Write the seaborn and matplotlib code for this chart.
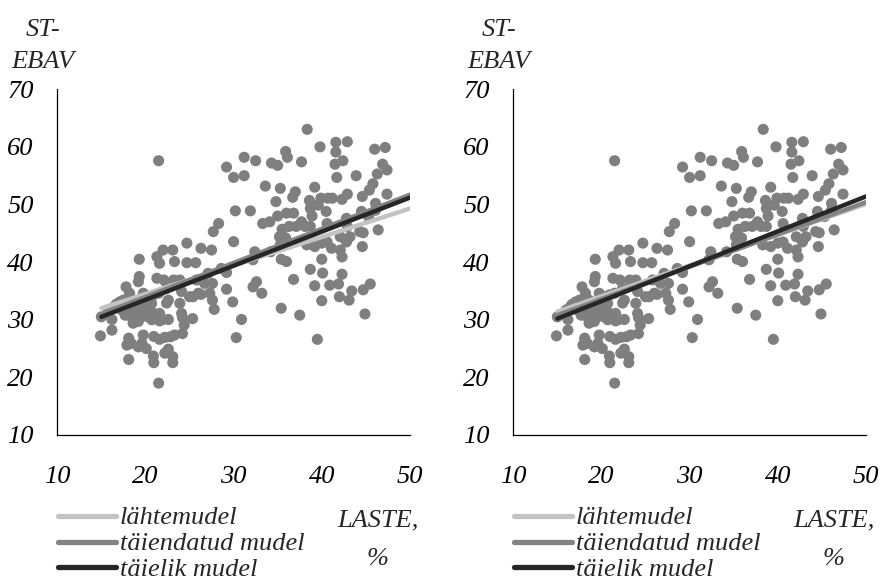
import numpy as np
import pandas as pd
import matplotlib
matplotlib.use("Agg")
import matplotlib.pyplot as plt
from matplotlib.lines import Line2D
import seaborn as sns

# scatter points (same in both panels)
laste = [38.35, 39.8, 41.6, 42.9, 41.6, 42.4, 41.5, 41.7, 43.9, 46.0, 47.2, 46.9, 47.4, 46.3,
         45.8, 45.4, 44.6, 47.4, 42.9, 39.2, 40.7, 39.9, 41.2, 42.3, 38.6, 39.6, 38.7, 38.9,
         40.5, 46.1, 46.1, 44.5, 45.3, 42.8, 40.6, 42.9, 43.2, 42.1, 42.8, 44.3, 44.7, 46.4,
         44.6, 40.6, 40.0, 39.2, 38.3, 41.1, 42.1, 42.3, 40.0, 38.7, 40.1, 42.3, 39.2, 40.9,
         41.9, 42.0, 43.1, 43.4, 40.0, 44.7, 45.5, 44.9, 39.5, 37.5, 35.4, 36.8, 36.0, 35.4,
         35.3, 35.9, 35.5, 36.3, 37.1, 37.7, 38.1, 38.7, 36.0, 36.8, 35.0, 34.8, 36.7, 37.0,
         35.3, 33.6, 35.9, 36.1, 37.7, 34.3, 35.0, 32.5, 31.2, 31.2, 30.0, 29.2, 31.9, 30.2,
         33.3, 34.1, 34.2, 32.4, 32.2, 30.0, 29.2, 28.6, 29.2, 29.9, 30.9, 30.3, 32.6, 32.2,
         33.2, 28.3, 27.7, 27.5, 26.3, 24.7, 27.1, 25.8, 26.7, 27.6, 27.3, 27.6, 27.8, 26.3,
         25.4, 25.0, 25.7, 24.7, 23.3, 23.9, 24.1, 23.9, 24.1, 24.2, 25.35, 24.4, 24.2, 23.1,
         22.0, 21.3, 21.6, 21.3, 22.1, 23.2, 22.4, 21.5, 22.6, 22.4, 21.6, 22.0, 22.6, 21.6,
         21.5, 21.5, 20.95, 21.6, 22.2, 22.85, 22.6, 22.2, 23.1, 23.1, 20.9, 20.95, 19.3, 19.3,
         19.2, 20.1, 17.8, 18.2, 17.1, 16.5, 16.0, 15.7, 16.2, 15.0, 14.9, 16.2, 18.1, 18.1,
         18.4, 17.9, 19.2, 19.6, 20.1, 19.75, 17.5, 18.05, 18.6, 19.4, 20.1, 20.7, 17.3, 17.9,
         18.6, 19.4, 20.1, 20.7, 17.7, 18.4, 19.4, 20.1, 18.6, 19.2, 20.7, 19.75, 20.9, 16.7,
         18.8, 20.3, 35.6, 35.2, 23.3, 26.0]
ebav = [63.05, 60.0, 60.8, 60.9, 59.1, 57.6, 57.0, 54.7, 55.0, 59.6, 59.9, 57.0, 56.0, 55.3,
        53.6, 52.5, 51.4, 51.8, 51.8, 53.0, 51.1, 51.1, 51.1, 50.9, 50.7, 49.9, 49.3, 48.0,
        48.8, 50.2, 49.0, 48.8, 47.9, 47.6, 46.7, 46.2, 44.4, 44.4, 43.5, 45.3, 45.1, 45.6,
        42.7, 43.5, 43.3, 42.7, 43.0, 42.4, 42.1, 40.9, 40.5, 38.75, 38.1, 37.9, 35.9, 36.0,
        36.2, 34.0, 33.4, 35.0, 33.3, 35.2, 36.2, 31.0, 26.6, 30.8, 32.0, 37.0, 40.1, 40.5,
        43.0, 44.2, 45.7, 46.2, 46.2, 47.0, 46.2, 46.2, 48.5, 48.5, 48.0, 50.5, 51.25, 52.2,
        52.8, 53.2, 59.2, 58.2, 57.4, 57.2, 56.8, 57.6, 58.2, 55.0, 54.7, 56.5, 48.9, 48.9,
        46.7, 47.0, 41.8, 41.8, 40.4, 43.55, 38.2, 38.9, 35.3, 33.1, 30.05, 26.9, 36.6, 35.7,
        34.6, 46.7, 45.3, 42.1, 42.4, 43.3, 38.05, 36.9, 36.3, 36.3, 34.6, 33.4, 31.8, 34.4,
        34.0, 34.0, 39.9, 39.9, 40.1, 36.9, 34.9, 32.85, 31.1, 30.4, 30.2, 29.1, 27.6, 42.1,
        42.1, 40.95, 39.8, 37.2, 36.9, 36.9, 35.45, 34.6, 33.4, 32.9, 31.1, 30.05, 30.05, 29.8,
        57.6, 19.0, 27.1, 26.6, 26.95, 27.05, 24.9, 24.2, 23.6, 22.55, 23.7, 22.55, 40.5, 37.5,
        36.6, 34.1, 35.7, 34.6, 33.1, 32.3, 31.7, 31.1, 30.05, 30.5, 27.2, 28.2, 23.1, 26.8,
        25.9, 25.6, 25.3, 25.9, 25.0, 27.35, 33.4, 33.1, 33.4, 33.1, 33.4, 32.85, 31.7, 32.0,
        31.7, 31.7, 31.7, 31.4, 30.8, 30.5, 30.4, 30.6, 29.4, 29.7, 30.0, 34.6, 34.3, 32.7,
        31.1, 32.2, 44.4, 44.4, 27.35, 34.6]

# fitted lines: start and end of each model, per panel
line_x = [15, 50]
models = ["lähtemudel", "täiendatud mudel", "täielik mudel"]
left_lines = {"lähtemudel": [32.0, 49.3],
              "täiendatud mudel": [31.0, 51.7],
              "täielik mudel": [30.5, 51.2]}
right_lines = {"lähtemudel": [31.4, 50.1],
               "täiendatud mudel": [30.8, 50.4],
               "täielik mudel": [30.2, 51.4]}
line_colors = ["#c3c3c3", "#838383", "#262626"]

x_ticks = [10, 20, 30, 40, 50]
y_ticks = [10, 20, 30, 40, 50, 60, 70]

sns.set_style("white")
plt.rcParams['font.family'] = ['Liberation Serif', 'DejaVu Serif']
plt.rcParams['font.style'] = 'italic'

FS = 19
W, H = 881, 582
pts = pd.DataFrame({"LASTE": laste, "EBAV": ebav})

fig = plt.figure(figsize=(8.81, 5.82), dpi=100)
ax_left = fig.add_axes([0.065, 0.2526, 0.4003, 0.594])
ax_right = fig.add_axes([0.5826, 0.2526, 0.4003, 0.594])

for ax, lines, off in [(ax_left, left_lines, 0), (ax_right, right_lines, 456)]:
    sns.scatterplot(data=pts, x="LASTE", y="EBAV", ax=ax, color="#7f7f7f",
                    s=64, edgecolor="none", linewidth=0, zorder=2)
    for name, col in zip(models, line_colors):
        d = pd.DataFrame({"x": line_x, "y": lines[name]})
        sns.lineplot(data=d, x="x", y="y", ax=ax, color=col, linewidth=3.2,
                     zorder=3, solid_capstyle="round")

    ax.set_xlim(10, 50)
    ax.set_ylim(10, 70)
    ax.set_xticks(x_ticks, [str(t) for t in x_ticks], fontstyle="italic",
                  fontfamily="Liberation Serif", fontsize=FS)
    ax.set_yticks(y_ticks, [str(t) for t in y_ticks], fontstyle="italic",
                  fontfamily="Liberation Serif", fontsize=FS)
    ax.set_xlabel("")
    ax.set_ylabel("")
    for s in ["top", "right"]:
        ax.spines[s].set_visible(False)
    for s in ["left", "bottom"]:
        ax.spines[s].set_color("black")
        ax.spines[s].set_linewidth(0.9)
    ax.tick_params(axis="x", direction="out", length=6, width=0.9, pad=16,
                   colors="black")
    ax.tick_params(axis="y", direction="out", length=5, width=0.9, pad=12,
                   colors="black")

    # axis titles
    fig.text((43 + off) / W, 1 - 46 / H, "ST-\nEBAV", ha="center", va="center",
             fontsize=FS, style="italic", linespacing=1.6)
    fig.text((378 + off) / W, 1 - 540 / H, "LASTE,\n%", ha="center", va="center",
             fontsize=FS, style="italic", linespacing=1.95)

    # legend drawn by hand
    for i, (name, col) in enumerate(zip(models, line_colors)):
        yy = 1 - (516 + 25.5 * i) / H
        fig.add_artist(Line2D([(58 + off) / W, (116 + off) / W], [yy, yy],
                              transform=fig.transFigure, color=col,
                              linewidth=3.8, solid_capstyle="round"))
        fig.text((120 + off) / W, yy, name, ha="left", va="center_baseline",
                 fontsize=FS, style="italic")

fig.savefig("out.png", dpi=100, facecolor="white")
